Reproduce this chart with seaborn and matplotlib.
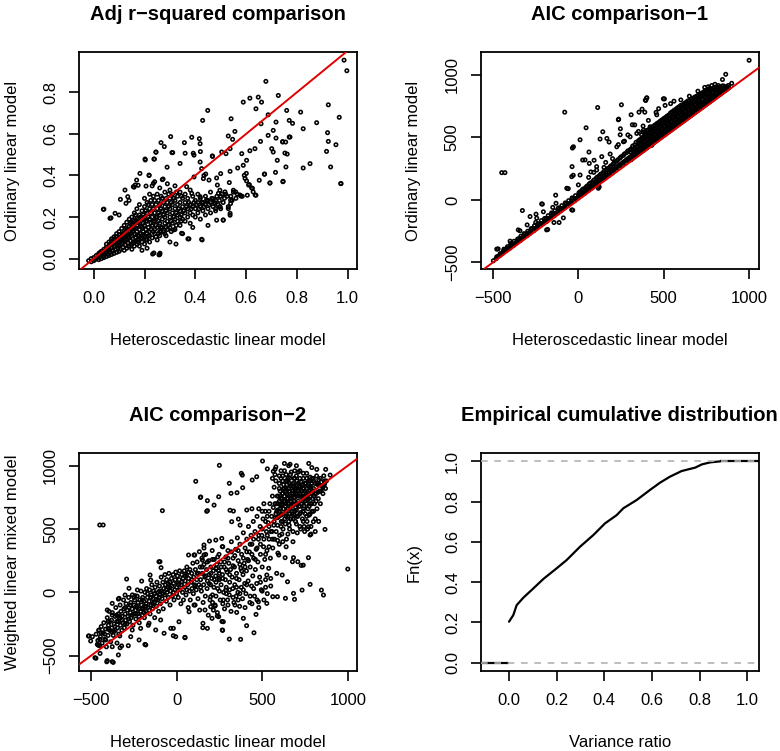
import numpy as np
import matplotlib
matplotlib.use("Agg")
import matplotlib.pyplot as plt
import seaborn as sns

# === Data ===
# Panel 1: adjusted r-squared, heteroscedastic (x) vs ordinary (y)
adj_pts = [
    (-0.02, -0.01), (-0.01, -0.015), (-0.01, 0.0), (0.0, -0.01), (0.0, 0.005), (0.005, -0.005),
    (0.01, 0.0), (0.01, 0.015), (0.015, 0.005), (0.02, -0.005), (0.02, 0.01), (0.02, 0.025),
    (0.025, 0.015), (0.03, 0.0), (0.03, 0.02), (0.03, 0.035), (0.035, 0.01), (0.04, 0.005),
    (0.04, 0.025), (0.04, 0.045), (0.045, 0.03), (0.05, 0.01), (0.05, 0.035), (0.05, 0.055),
    (0.05, 0.07), (0.055, 0.02), (0.06, 0.015), (0.06, 0.04), (0.06, 0.06), (0.06, 0.08),
    (0.065, 0.03), (0.07, 0.02), (0.07, 0.05), (0.07, 0.07), (0.07, 0.095), (0.075, 0.04),
    (0.08, 0.025), (0.08, 0.06), (0.08, 0.08), (0.08, 0.105), (0.085, 0.045), (0.09, 0.03),
    (0.09, 0.07), (0.09, 0.09), (0.09, 0.12), (0.095, 0.05), (0.1, 0.035), (0.1, 0.06),
    (0.1, 0.08), (0.1, 0.1), (0.1, 0.13), (0.105, 0.045), (0.11, 0.07), (0.11, 0.11),
    (0.11, 0.145), (0.115, 0.055), (0.12, 0.04), (0.12, 0.085), (0.12, 0.1), (0.12, 0.125),
    (0.12, 0.16), (0.125, 0.065), (0.13, 0.05), (0.13, 0.09), (0.13, 0.115), (0.13, 0.14),
    (0.13, 0.175), (0.135, 0.075), (0.14, 0.06), (0.14, 0.1), (0.14, 0.13), (0.14, 0.155),
    (0.14, 0.19), (0.145, 0.085), (0.15, 0.045), (0.15, 0.07), (0.15, 0.11), (0.15, 0.14),
    (0.15, 0.165), (0.15, 0.2), (0.155, 0.095), (0.16, 0.06), (0.16, 0.08), (0.16, 0.12),
    (0.16, 0.15), (0.16, 0.18), (0.16, 0.22), (0.165, 0.1), (0.17, 0.07), (0.17, 0.13),
    (0.17, 0.16), (0.17, 0.195), (0.17, 0.24), (0.175, 0.09), (0.18, 0.06), (0.18, 0.11),
    (0.18, 0.14), (0.18, 0.17), (0.18, 0.21), (0.18, 0.26), (0.185, 0.12), (0.19, 0.08),
    (0.19, 0.1), (0.19, 0.15), (0.19, 0.19), (0.19, 0.23), (0.195, 0.13), (0.2, 0.07),
    (0.2, 0.11), (0.2, 0.16), (0.2, 0.2), (0.2, 0.25), (0.2, 0.29), (0.205, 0.14),
    (0.21, 0.09), (0.21, 0.12), (0.21, 0.18), (0.21, 0.22), (0.21, 0.27), (0.215, 0.15),
    (0.22, 0.08), (0.22, 0.11), (0.22, 0.13), (0.22, 0.19), (0.22, 0.24), (0.22, 0.31),
    (0.23, 0.1), (0.23, 0.16), (0.23, 0.2), (0.23, 0.26), (0.23, 0.35), (0.24, 0.12),
    (0.24, 0.14), (0.24, 0.18), (0.24, 0.22), (0.24, 0.28), (0.24, 0.37), (0.25, 0.09),
    (0.25, 0.15), (0.25, 0.2), (0.25, 0.24), (0.25, 0.31), (0.26, 0.11), (0.26, 0.13),
    (0.26, 0.17), (0.26, 0.21), (0.26, 0.26), (0.26, 0.34), (0.27, 0.15), (0.27, 0.19),
    (0.27, 0.23), (0.27, 0.29), (0.27, 0.38), (0.28, 0.12), (0.28, 0.17), (0.28, 0.2),
    (0.28, 0.25), (0.28, 0.32), (0.29, 0.14), (0.29, 0.18), (0.29, 0.22), (0.29, 0.27),
    (0.29, 0.36), (0.3, 0.15), (0.3, 0.2), (0.3, 0.24), (0.3, 0.29), (0.3, 0.33),
    (0.31, 0.17), (0.31, 0.22), (0.31, 0.26), (0.31, 0.31), (0.32, 0.14), (0.32, 0.19),
    (0.32, 0.24), (0.32, 0.28), (0.32, 0.35), (0.33, 0.18), (0.33, 0.21), (0.33, 0.26),
    (0.33, 0.3), (0.34, 0.16), (0.34, 0.2), (0.34, 0.23), (0.34, 0.27), (0.34, 0.32),
    (0.35, 0.19), (0.35, 0.25), (0.35, 0.29), (0.36, 0.18), (0.36, 0.22), (0.36, 0.27),
    (0.36, 0.31), (0.37, 0.2), (0.37, 0.24), (0.37, 0.29), (0.38, 0.17), (0.38, 0.22),
    (0.38, 0.26), (0.38, 0.33), (0.39, 0.21), (0.39, 0.25), (0.39, 0.3), (0.4, 0.2),
    (0.4, 0.24), (0.4, 0.28), (0.41, 0.22), (0.41, 0.27), (0.41, 0.31), (0.42, 0.19),
    (0.42, 0.25), (0.42, 0.29), (0.43, 0.23), (0.43, 0.27), (0.44, 0.21), (0.44, 0.26),
    (0.44, 0.3), (0.45, 0.24), (0.45, 0.28), (0.46, 0.22), (0.46, 0.27), (0.46, 0.32),
    (0.47, 0.25), (0.48, 0.23), (0.48, 0.28), (0.49, 0.26), (0.5, 0.24), (0.5, 0.3),
    (0.51, 0.27), (0.52, 0.31), (0.53, 0.25), (0.54, 0.3), (0.55, 0.32), (0.56, 0.29),
    (0.105, 0.09), (0.115, 0.12), (0.125, 0.145), (0.135, 0.105), (0.145, 0.12), (0.155, 0.13),
    (0.165, 0.145), (0.175, 0.11), (0.175, 0.175), (0.185, 0.155), (0.185, 0.2), (0.195, 0.17),
    (0.195, 0.21), (0.205, 0.09), (0.205, 0.18), (0.205, 0.23), (0.215, 0.2), (0.215, 0.26),
    (0.225, 0.17), (0.225, 0.22), (0.225, 0.28), (0.235, 0.13), (0.235, 0.18), (0.235, 0.24),
    (0.235, 0.3), (0.245, 0.16), (0.245, 0.2), (0.245, 0.26), (0.255, 0.12), (0.255, 0.18),
    (0.255, 0.22), (0.255, 0.28), (0.265, 0.15), (0.265, 0.24), (0.265, 0.3), (0.275, 0.13),
    (0.275, 0.21), (0.275, 0.27), (0.285, 0.15), (0.285, 0.23), (0.285, 0.29), (0.295, 0.16),
    (0.295, 0.25), (0.295, 0.31), (0.305, 0.18), (0.305, 0.27), (0.315, 0.2), (0.315, 0.29),
    (0.325, 0.22), (0.325, 0.32), (0.335, 0.24), (0.345, 0.21), (0.345, 0.3), (0.355, 0.23),
    (0.365, 0.25), (0.375, 0.27), (0.385, 0.24), (0.395, 0.27), (0.405, 0.26), (0.415, 0.24),
    (0.425, 0.27), (0.435, 0.25), (0.445, 0.28), (0.455, 0.26), (0.465, 0.29), (0.475, 0.27),
    (0.485, 0.3), (0.495, 0.28), (0.505, 0.31), (0.515, 0.29), (0.525, 0.3), (0.545, 0.28),
    (0.565, 0.31), (0.585, 0.3), (0.1, 0.115), (0.09, 0.105), (0.08, 0.095), (0.07, 0.085),
    (0.065, 0.07), (0.06, 0.05), (0.055, 0.045), (0.045, 0.04), (0.035, 0.025), (0.025, 0.03),
    (0.085, 0.06), (0.095, 0.075), (0.105, 0.065), (0.115, 0.09), (0.125, 0.11), (0.135, 0.12),
    (0.145, 0.145), (0.155, 0.165), (0.165, 0.17), (0.175, 0.19), (0.145, 0.17), (0.155, 0.185),
    (0.165, 0.21), (0.125, 0.09), (0.135, 0.06), (0.155, 0.075), (0.165, 0.085), (0.175, 0.08),
    (0.185, 0.095), (0.195, 0.115), (0.215, 0.11), (0.225, 0.14), (0.245, 0.105), (0.265, 0.13),
    (0.285, 0.11), (0.305, 0.13), (0.325, 0.16), (0.345, 0.18),
    (0.371, 0.095), (0.427, 0.09), (0.324, 0.07), (0.257, 0.018), (0.237, 0.027), (0.26, 0.02),
    (0.21, 0.05), (0.19, 0.04), (0.3, 0.08), (0.35, 0.12), (0.39, 0.15), (0.45, 0.16),
    (0.04, 0.238), (0.068, 0.196), (0.1, 0.21), (0.139, 0.28), (0.159, 0.344), (0.206, 0.349),
    (0.218, 0.4), (0.245, 0.512), (0.202, 0.479), (0.237, 0.479), (0.289, 0.44), (0.308, 0.51),
    (0.36, 0.507), (0.395, 0.498), (0.395, 0.393), (0.434, 0.4), (0.419, 0.465), (0.419, 0.553),
    (0.425, 0.433), (0.432, 0.385), (0.484, 0.388), (0.497, 0.329), (0.484, 0.185), (0.51, 0.185),
    (0.471, 0.288), (0.48, 0.241), (0.497, 0.249), (0.537, 0.209), (0.53, 0.241), (0.539, 0.265),
    (0.539, 0.281), (0.517, 0.321), (0.55, 0.329), (0.58, 0.301), (0.605, 0.305), (0.639, 0.305),
    (0.628, 0.321), (0.622, 0.34), (0.613, 0.356), (0.602, 0.374), (0.652, 0.377), (0.672, 0.406),
    (0.694, 0.364), (0.746, 0.372), (0.593, 0.401), (0.5, 0.409), (0.537, 0.42), (0.567, 0.436),
    (0.589, 0.449), (0.602, 0.473), (0.468, 0.492), (0.504, 0.513), (0.521, 0.505), (0.537, 0.529),
    (0.583, 0.505), (0.615, 0.519), (0.635, 0.529), (0.657, 0.564), (0.701, 0.529), (0.707, 0.513),
    (0.723, 0.473), (0.753, 0.508), (0.762, 0.503), (0.757, 0.441), (0.825, 0.436), (0.852, 0.457),
    (0.933, 0.441), (0.974, 0.361), (0.917, 0.516), (0.954, 0.548), (0.924, 0.564), (0.921, 0.606),
    (0.744, 0.561), (0.756, 0.561), (0.77, 0.585), (0.718, 0.58), (0.687, 0.593), (0.547, 0.574),
    (0.53, 0.59), (0.556, 0.612), (0.707, 0.617), (0.659, 0.649), (0.825, 0.625), (0.967, 0.68),
    (0.924, 0.74), (0.878, 0.654), (0.77, 0.665), (0.718, 0.657), (0.687, 0.692), (0.815, 0.705),
    (0.76, 0.713), (0.541, 0.673), (0.429, 0.665), (0.449, 0.713), (0.639, 0.721), (0.727, 0.785),
    (0.661, 0.753), (0.648, 0.777), (0.589, 0.753), (0.615, 0.772), (0.678, 0.853), (0.986, 0.955),
    (0.997, 0.904), (0.783, 0.651), (0.773, 0.585), (0.744, 0.563), (0.716, 0.415), (0.673, 0.407),
    (0.694, 0.364), (0.745, 0.37), (0.973, 0.361), (0.601, 0.41), (0.596, 0.386), (0.61, 0.354),
    (0.625, 0.338), (0.636, 0.306), (0.576, 0.306), (0.559, 0.321), (0.534, 0.366), (0.491, 0.314),
    (0.416, 0.577), (0.386, 0.584), (0.357, 0.558), (0.311, 0.51), (0.265, 0.558), (0.245, 0.513),
    (0.239, 0.479), (0.278, 0.539), (0.303, 0.587), (0.203, 0.475), (0.218, 0.402), (0.273, 0.383),
    (0.235, 0.362), (0.163, 0.354), (0.134, 0.298), (0.127, 0.266), (0.34, 0.458), (0.392, 0.507),
    (0.42, 0.515), (0.467, 0.494), (0.441, 0.407), (0.454, 0.378), (0.487, 0.354), (0.366, 0.346),
    (0.386, 0.314), (0.419, 0.298), (0.445, 0.282), (0.478, 0.266), (0.497, 0.25), (0.51, 0.186),
    (0.537, 0.218), (0.425, 0.093), (0.375, 0.095), (0.346, 0.122), (0.314, 0.138), (0.261, 0.026),
    (0.232, 0.022), (0.038, 0.237), (0.064, 0.194), (0.084, 0.218), (0.105, 0.285), (0.123, 0.33),
    (0.156, 0.346), (0.175, 0.353), (0.182, 0.41), (0.169, 0.378),
]

# Panel 2: AIC, heteroscedastic (x) vs ordinary (y)
aic1_pts = [
    (-482, -471), (-478, -455), (-461, -446), (-458, -430), (-442, -426), (-439, -409), (-436, -394),
    (-421, -404), (-418, -389), (-415, -374), (-401, -386), (-398, -369), (-396, -349),
    (-381, -366), (-379, -350), (-377, -331), (-362, -344), (-358, -331), (-356, -314),
    (-341, -326), (-339, -309), (-337, -291), (-322, -304), (-319, -289), (-318, -270),
    (-301, -286), (-299, -269), (-297, -251), (-282, -266), (-279, -249), (-277, -229),
    (-261, -246), (-259, -229), (-257, -206), (-241, -224), (-239, -209), (-238, -191),
    (-222, -206), (-219, -189), (-217, -166), (-201, -184), (-199, -171), (-198, -149),
    (-181, -166), (-179, -149), (-177, -126), (-162, -144), (-159, -131), (-157, -104),
    (-141, -126), (-139, -109), (-137, -86), (-121, -104), (-119, -91), (-117, -64),
    (-102, -86), (-99, -69), (-97, -46), (-81, -64), (-79, -51), (-77, -24),
    (-62, -46), (-59, -29), (-57, -6), (-41, -24), (-39, -11), (-37, 16),
    (-21, -6), (-19, 11), (-17, 34), (-2, 14), (1, 31), (3, 56),
    (19, 36), (21, 49), (23, 81), (38, 54), (41, 71), (43, 99),
    (58, 76), (61, 89), (63, 126), (79, 96), (81, 111), (83, 144),
    (98, 116), (101, 134), (103, 171), (118, 134), (121, 156), (123, 194),
    (138, 156), (141, 174), (143, 216), (158, 176), (161, 196), (163, 239),
    (178, 194), (181, 216), (183, 261), (198, 216), (201, 239), (203, 286),
    (218, 236), (221, 261), (223, 309), (238, 256), (241, 281), (243, 334),
    (258, 276), (261, 299), (263, 356), (278, 296), (281, 321), (283, 379),
    (298, 316), (301, 341), (303, 401),
    (-470, -452), (-450, -432), (-430, -397), (-410, -392), (-390, -355), (-370, -352),
    (-350, -312), (-330, -310), (-310, -275), (-290, -270), (-270, -232), (-250, -230),
    (-230, -192), (-210, -188), (-190, -150), (-170, -148), (-150, -108), (-130, -106),
    (-110, -70), (-90, -68), (-70, -30), (-50, -28), (-30, 8), (-10, 12), (10, 40),
    (10, 65), (30, 60), (30, 88), (50, 80), (50, 110), (70, 100), (70, 135), (90, 120),
    (90, 158), (110, 140), (110, 182), (130, 160), (130, 205), (150, 180), (150, 228),
    (170, 200), (170, 250), (190, 225), (190, 272), (210, 245), (210, 298), (230, 268),
    (230, 320), (250, 288), (250, 345), (270, 308), (270, 368), (290, 330), (290, 392),
    (321, 336), (319, 366), (322, 396), (318, 431), (341, 356), (339, 386), (342, 421), (338, 461),
    (361, 376), (359, 406), (362, 441), (358, 481), (381, 396), (379, 426), (382, 461), (378, 501),
    (380, 541), (401, 416), (399, 446), (402, 481), (398, 516), (400, 556), (421, 436), (419, 466),
    (422, 501), (418, 536), (420, 571), (441, 456), (439, 486), (442, 521), (438, 556), (440, 591),
    (461, 476), (459, 506), (462, 541), (458, 576), (460, 611), (481, 496), (479, 526), (482, 561),
    (478, 596), (480, 631), (501, 516), (499, 546), (502, 581), (498, 616), (500, 651), (521, 536),
    (519, 566), (522, 601), (518, 636), (520, 671), (541, 556), (539, 586), (542, 621), (538, 656),
    (540, 696), (561, 576), (559, 606), (562, 641), (558, 676), (560, 716), (581, 596), (579, 626),
    (582, 661), (578, 696), (580, 736), (601, 616), (599, 646), (602, 681), (598, 716), (600, 756),
    (621, 636), (619, 666), (622, 701), (618, 736), (620, 771), (641, 656), (639, 686), (642, 721),
    (638, 756), (640, 791), (661, 676), (659, 706), (662, 741), (658, 776), (660, 806), (681, 696),
    (679, 726), (682, 761), (678, 796), (680, 821), (701, 716), (699, 746), (702, 781), (698, 811),
    (700, 836), (721, 736), (719, 766), (722, 801), (718, 831), (720, 851), (741, 756), (739, 786),
    (742, 816), (738, 846), (740, 871), (761, 776), (759, 806), (762, 836), (758, 866), (760, 886),
    (781, 796), (779, 826), (782, 856), (778, 886), (801, 816), (799, 846), (802, 876), (798, 901),
    (821, 836), (819, 866), (822, 896), (841, 856), (839, 886), (842, 911), (861, 876), (859, 901),
    (881, 896), (879, 916),
    (310, 322), (310, 350), (310, 380), (310, 410), (330, 345), (330, 372), (330, 405), (330, 440),
    (350, 365), (350, 395), (350, 430), (350, 470), (370, 385), (370, 415), (370, 450), (370, 490),
    (370, 520), (390, 405), (390, 435), (390, 470), (390, 505), (390, 545), (410, 425), (410, 455),
    (410, 490), (410, 525), (410, 560), (430, 445), (430, 475), (430, 510), (430, 545), (430, 580),
    (450, 465), (450, 495), (450, 530), (450, 565), (450, 600), (470, 485), (470, 515), (470, 550),
    (470, 585), (470, 620), (490, 505), (490, 535), (490, 570), (490, 605), (490, 640), (510, 525),
    (510, 555), (510, 590), (510, 625), (510, 660), (530, 545), (530, 575), (530, 610), (530, 645),
    (530, 680), (550, 565), (550, 595), (550, 630), (550, 665), (550, 705), (570, 585), (570, 615),
    (570, 650), (570, 685), (570, 725), (590, 605), (590, 635), (590, 670), (590, 705), (590, 745),
    (610, 625), (610, 655), (610, 690), (610, 725), (610, 760), (630, 645), (630, 675), (630, 710),
    (630, 745), (630, 780), (650, 665), (650, 695), (650, 730), (650, 765), (650, 795), (670, 685),
    (670, 715), (670, 750), (670, 785), (670, 812), (690, 705), (690, 735), (690, 770), (690, 800),
    (690, 828), (710, 725), (710, 755), (710, 790), (710, 820), (710, 845), (730, 745), (730, 775),
    (730, 805), (730, 835), (730, 860), (750, 765), (750, 795), (750, 825), (750, 855), (750, 878),
    (770, 785), (770, 815), (770, 845), (770, 875), (770, 892), (790, 805), (790, 835), (790, 865),
    (790, 893), (810, 825), (810, 855), (810, 885), (810, 905), (830, 845), (830, 875), (830, 902),
    (850, 865), (850, 892), (850, 912), (870, 885), (870, 908),
    (-449, 218), (-430, 218), (-80, 702), (113, 739), (252, 761), (400, 814), (392, 798),
    (498, 809), (373, 726), (389, 702), (355, 702), (309, 681), (236, 646), (45, 577),
    (143, 545), (127, 487), (10, 481), (-29, 425), (-35, 415), (-37, 266), (62, 383),
    (25, 319), (64, 292), (10, 199), (-39, 186), (-68, 93), (117, 93), (107, 239),
    (186, 367), (225, 425), (264, 465), (303, 505), (342, 532), (381, 558), (420, 585),
    (167, 492), (137, 346), (107, 266), (-328, -85), (-352, -240), (-186, -173), (-88, -144),
    (-244, -146), (-215, -32), (-283, -133), (-131, -27), (-39, -80), (-186, -240),
    (-478, -394), (-470, -392), (-498, -487), (1000, 1117), (863, 1005), (844, 963), (898, 933),
    (180, 463), (39, 320), (-30, 197), (-133, 38), (-211, -34), (-248, -114), (-205, -95),
    (-113, -181), (-143, -181), (-180, -237), (-342, -247), (-59, 90), (-33, -82), (92, 317),
    (73, 224), (122, 104), (781, 915), (504, 808), (401, 817), (395, 796), (508, 756),
    (459, 681), (234, 641), (316, 601), (379, 591), (410, 636), (246, 569), (245, 521),
    (352, 548), (234, 442), (430, 437), (270, 470), (290, 520), (330, 600), (455, 700),
    (470, 730), (540, 770), (560, 790), (600, 800), (650, 830), (700, 870), (740, 900),
    (760, 905), (800, 925), (820, 915), (160, 300), (200, 330), (60, 180), (90, 220),
    (-150, -60), (-300, -200), (-400, -330), (-250, -180), (0, 120), (150, 260),
]

# Panel 3: AIC, heteroscedastic (x) vs weighted mixed model (y)
aic2_pts = [
    (1000, 184), (-449, 532), (-429, 532), (-83, 645), (112, 877), (141, 753), (180, 724),
    (180, 645), (176, 640), (160, 350), (250, 1003), (502, 1037), (630, 1018), (663, 1011),
    (772, 1018), (308, 861), (353, 787), (386, 826), (318, 782), (139, 750), (219, 689),
    (246, 755), (468, 913), (442, 887), (384, 926), (378, 940), (575, 971), (565, 955),
    (530, 975), (332, 642), (312, 648), (410, 650), (440, 660), (361, 579), (371, 531),
    (322, 558), (264, 426), (229, 413), (192, 405), (133, 321), (151, 255), (160, 374),
    (106, 295), (70, 295), (-97, 242), (-91, 195), (-155, 137), (-204, 89), (-292, 105),
    (-243, -26), (-340, -53), (-515, -345), (-492, -350), (-477, -516), (-408, -548),
    (-370, -553), (-447, -482), (-463, -411), (-330, -437), (-282, -421), (-185, -411),
    (-19, -284), (-19, -342), (49, -358), (153, -279), (269, -300), (308, -369), (374, -371),
    (409, -263), (452, -319), (273, -232), (207, -205), (246, -192), (215, -140), (225, -108),
    (351, -158), (341, -100), (390, -205), (464, -174), (478, -74), (527, -87), (562, -34),
    (589, -34), (636, -47), (689, -55), (683, -8), (733, 18), (780, 63), (846, 18), (858, -21),
    (648, 84), (617, 137), (550, 110), (527, 137), (585, 150), (677, 242), (708, 242),
    (728, 213), (740, 215), (770, 274), (683, 274), (634, 274), (597, 295), (799, 558),
    (830, 560), (770, 518), (780, 453), (810, 480), (867, 497), (862, 847), (871, 971),
    (897, 926), (819, 971), (790, 985),
    (-512, -344), (-502, -384), (-457, -418), (-471, -520), (-405, -539), (-376, -547),
    (-340, -494), (-414, -376), (-376, -429), (-366, -310), (-321, -423), (-453, -297),
    (-391, -232), (-376, -179), (-332, -344), (-268, -350), (-259, -297), (-219, -376),
    (-180, -415), (-210, -284), (-161, -244), (-122, -297), (-93, -218), (-73, -323),
    (-34, -284), (-5, -350), (49, -355), (14, -232), (73, -153), (102, -100), (166, -139),
    (199, -113), (154, -244), (180, -284), (238, -187), (267, -297), (273, -60), (199, -34),
    (287, 19), (248, 111), (232, 190), (160, 295), (267, 361), (102, 295), (-103, 242),
    (-151, 97), (-229, 19), (-278, 32), (-301, -21), (-336, -47), (-376, -87), (-405, -139),
    (-470, -330), (-460, -380), (-455, -300), (-450, -420), (-445, -350), (-440, -270),
    (-435, -400), (-430, -320), (-425, -240), (-420, -370), (-415, -290), (-410, -430),
    (-405, -200), (-400, -340), (-398, -260), (-395, -150), (-390, -300), (-385, -390),
    (-380, -220), (-378, -280), (-375, -160), (-370, -340), (-365, -250), (-360, -190),
    (-358, -300), (-355, -120), (-350, -230), (-348, -400), (-345, -280), (-340, -170),
    (-338, -330), (-335, -210), (-330, -100), (-328, -260), (-325, -150), (-320, -300),
    (-318, -190), (-315, -240), (-310, -60), (-308, -130), (-305, -280), (-300, -170),
    (-298, -220), (-295, -90), (-290, -250), (-288, -140), (-285, -190), (-280, -40),
    (-278, -120), (-275, -230), (-270, -160), (-268, -80), (-265, -200), (-260, -130),
    (-258, -20), (-255, -260), (-250, -170), (-248, -100), (-245, -60), (-240, -140),
    (-238, -210), (-235, -110), (-230, -30), (-228, -170), (-225, -80), (-220, -130),
    (-218, -240), (-215, -60), (-210, -150), (-208, 10), (-205, -100), (-200, -180),
    (-198, -40), (-195, -120), (-190, -70), (-188, -200), (-185, 0), (-180, -150),
    (-178, -90), (-175, 30), (-170, -40), (-168, -120), (-165, -260), (-160, -70),
    (-158, 20), (-155, -170), (-150, -100), (-148, -20), (-145, 60), (-140, -130),
    (-138, -50), (-135, 10), (-130, -80), (-128, -200), (-125, 40), (-120, -30),
    (-118, -110), (-115, 80), (-110, -60), (-108, 0), (-105, -150), (-100, 50),
    (-98, -20), (-95, -90), (-90, 120), (-88, 10), (-85, -50), (-80, 80), (-78, -130),
    (-75, 30), (-70, -20), (-68, 140), (-65, 60), (-60, -70), (-58, 100), (-55, 0),
    (-50, 40), (-48, -40), (-45, 150), (-40, 80), (-38, -100), (-35, 10), (-30, 110),
    (-28, 50), (-25, -30), (-20, 140), (-18, 70), (-15, -60), (-10, 20), (-8, 100),
    (-5, 160), (0, 40), (0, -10), (5, 130), (8, 70), (10, -40),
    (-440, -320), (-420, -330), (-400, -290), (-380, -310), (-360, -270), (-340, -230),
    (-320, -220), (-300, -250), (-280, -210), (-260, -180), (-240, -170), (-220, -190),
    (-200, -130), (-180, -110), (-160, -140), (-140, -90), (-120, -60), (-100, -40),
    (-80, -10), (-60, 20), (-40, 40), (-20, 0), (-300, -120), (-250, -40), (-200, -60),
    (-150, -40), (-100, 10), (-50, 70), (-350, -180), (-400, -230), (-450, -370),
    (-330, -200), (-270, -100), (-230, -120), (-190, -160), (-170, -10), (-130, -10),
    (15, 100), (18, 170), (20, 20), (25, -90), (28, 60), (30, 140), (35, 0), (38, 110),
    (40, -60), (45, 170), (48, 40), (50, 90), (55, -20), (58, 140), (60, 200), (65, 60),
    (68, -120), (70, 110), (75, 10), (78, 180), (80, -60), (85, 80), (88, 150), (90, 30),
    (95, 230), (98, -10), (100, 120), (105, 60), (108, -100), (110, 180), (115, 20),
    (118, 100), (120, 240), (125, -50), (128, 150), (130, 60), (135, -140), (138, 200),
    (140, 100), (145, 10), (148, 270), (150, 150), (155, -80), (158, 60), (160, 220),
    (165, 120), (168, -30), (170, 300), (175, 180), (178, 30), (180, 90), (185, -180),
    (188, 250), (190, 140), (195, -60), (198, 60), (200, 200), (205, 110), (208, 330),
    (210, -20), (215, 170), (218, 40), (220, 260), (225, -100), (228, 130), (230, 80),
    (235, 220), (238, -160), (240, 30), (245, 170), (248, 300), (250, 100), (255, -60),
    (258, 240), (260, 60), (265, -230), (268, 140), (270, 360), (275, 0), (278, 200),
    (280, -130), (285, 100), (288, 280), (290, 40), (295, 160), (298, -60), (300, 330),
    (305, 230), (308, -20), (310, 80), (315, 180), (318, -150), (320, 400), (325, 120),
    (328, 30), (330, 270), (335, -80), (338, 200), (340, 60), (345, 340), (348, -30),
    (350, 150), (355, 430), (358, 0), (360, 250), (365, 100), (368, -110), (370, 380),
    (375, 190), (378, 40), (380, 300), (385, -50), (388, 140), (390, 470), (395, 230),
    (398, 70), (400, 350),
    (10, 60), (30, 80), (50, 130), (60, 20), (70, 160), (90, 100), (110, 50), (120, 150),
    (140, 40), (150, 200), (170, 130), (180, 240), (190, 70), (200, 150), (210, 260),
    (220, 100), (230, 190), (240, 280), (250, 150), (260, 200), (270, 110), (280, 240),
    (290, 180), (300, 270), (310, 140), (320, 320), (330, 210), (340, 290), (350, 110),
    (360, 330), (370, 220), (380, 170), (390, 270), (400, 200), (410, 320), (420, 250),
    (430, 380), (440, 300), (450, 420), (460, 260), (470, 350), (480, 450), (490, 380),
    (500, 500), (510, 420), (520, 300), (530, 450), (540, 360), (550, 480),
    (210, -80), (230, -30), (250, 10), (270, -90), (290, -10), (310, 20), (330, -40),
    (350, 40), (370, -10), (390, 20), (410, 60), (430, -30), (450, 30), (470, -60),
    (490, 80), (500, 10), (520, 40), (360, -60), (400, -120), (440, -90), (300, -100),
    (405, -10), (408, 170), (410, 420), (415, 260), (418, 90), (420, 520), (425, 320),
    (428, -80), (430, 200), (435, 450), (438, 50), (440, 380), (445, 130), (448, 560),
    (450, 270), (455, -30), (458, 480), (460, 180), (465, 340), (468, 70), (470, 600),
    (475, 240), (478, 420), (480, -120), (485, 120), (488, 520), (490, 300), (495, 20),
    (498, 450), (500, 200), (505, 580), (508, 360), (510, -60), (515, 260), (518, 640),
    (520, 100), (525, 480), (528, 330), (530, -10), (535, 550), (538, 190), (540, 420),
    (545, 700), (548, 270), (550, 50),
    (555, 600), (558, 480), (560, 760), (562, 350), (565, 670), (568, 530), (570, 830),
    (572, 420), (575, 700), (578, 590), (580, 880), (582, 480), (585, 640), (588, 760),
    (590, 530), (592, 310), (595, 700), (598, 600), (600, 820), (602, 450), (605, 660),
    (608, 740), (610, 900), (612, 560), (615, 690), (618, 780), (620, 620), (622, 500),
    (625, 850), (628, 720), (630, 960), (632, 580), (635, 680), (638, 790), (640, 640),
    (642, 420), (645, 740), (648, 880), (650, 600), (652, 700), (655, 820), (658, 530),
    (660, 760), (662, 660), (665, 930), (668, 580), (670, 720), (672, 850), (675, 640),
    (678, 780), (680, 480), (682, 690), (685, 900), (688, 610), (690, 750), (692, 820),
    (695, 560), (698, 700), (700, 650), (702, 880), (705, 780), (708, 600), (710, 720),
    (712, 950), (715, 680), (718, 830), (720, 520), (722, 760), (725, 630), (728, 870),
    (730, 700), (732, 800), (735, 580), (738, 740), (740, 900), (742, 660), (745, 820),
    (748, 480), (750, 760), (752, 620), (755, 860), (758, 700), (760, 940), (762, 560),
    (765, 790), (768, 660), (770, 880), (772, 740), (775, 610), (778, 830), (780, 910),
    (782, 700), (785, 460), (788, 780), (790, 860), (792, 640), (795, 740), (798, 900),
    (800, 820), (805, 700), (808, 860), (810, 580), (815, 780), (818, 920), (820, 660),
    (825, 850), (828, 740), (830, 890), (835, 800), (840, 700), (845, 870), (850, 840),
    (855, 780), (860, 920), (865, 860), (870, 820), (875, 880),
    (590, 650), (600, 720), (610, 610), (620, 700), (630, 760), (640, 820), (650, 660),
    (660, 860), (670, 680), (680, 800), (690, 900), (700, 820), (710, 860), (720, 900),
    (730, 850), (740, 780), (750, 720), (760, 820), (770, 780), (780, 840), (790, 700),
    (800, 760), (650, 900), (670, 950), (690, 960), (700, 1000), (720, 960), (640, 930),
    (655, 1000), (600, 920), (610, 960), (560, 900), (575, 930), (580, 990), (620, 880),
    (570, 560), (610, 520), (660, 500), (700, 540), (740, 560), (590, 410), (620, 400),
    (650, 460), (680, 400), (560, 420), (600, 380), (640, 360), (540, 520), (530, 600),
    (520, 560), (500, 640), (510, 700), (480, 660), (540, 640),
    (585, 700), (595, 760), (605, 800), (615, 740), (625, 660), (635, 720), (645, 780),
    (655, 700), (665, 740), (675, 800), (685, 720), (695, 780), (705, 700), (715, 760),
    (725, 800), (735, 720), (745, 680), (755, 780), (765, 730), (775, 680), (785, 820),
    (795, 800), (805, 760), (815, 720), (825, 790), (835, 850), (845, 800), (855, 830),
    (865, 880), (620, 780), (630, 820), (640, 700), (650, 740), (660, 800), (670, 760),
    (680, 700), (690, 640), (700, 760), (710, 800), (720, 680), (730, 760), (740, 820),
    (750, 860), (760, 760), (770, 840), (780, 760), (790, 900), (610, 680), (600, 640),
    (590, 590), (580, 620), (620, 560), (640, 600), (660, 620), (680, 580), (700, 600),
    (720, 620), (740, 640), (760, 600), (780, 620), (800, 640), (600, 860), (620, 920),
    (640, 880), (660, 900), (680, 860), (700, 920), (720, 840), (740, 940), (760, 900),
    (780, 880), (800, 880), (820, 860), (840, 900), (665, 840), (685, 830), (705, 850),
    (645, 850), (625, 820), (695, 670), (675, 620), (655, 560), (635, 540), (615, 460),
    (705, 470), (725, 500), (745, 520), (765, 500), (785, 520),
]

# Panel 4: empirical CDF of the variance ratio
ecdf_x = [0.0, 0.018, 0.032, 0.06, 0.102, 0.144, 0.2, 0.242, 0.298, 0.354, 0.403,
          0.452, 0.48, 0.536, 0.592, 0.634, 0.676, 0.725, 0.782, 0.81, 0.845, 0.887]
ecdf_f = [0.204, 0.237, 0.286, 0.323, 0.369, 0.416, 0.469, 0.51, 0.576, 0.634, 0.692,
          0.733, 0.767, 0.808, 0.858, 0.894, 0.924, 0.952, 0.969, 0.985, 0.995, 1.0]

ratio_ticks = [0.0, 0.2, 0.4, 0.6, 0.8, 1.0]
ratio_labels = ["0.0", "0.2", "0.4", "0.6", "0.8", "1.0"]
adj_yticks = [0.0, 0.2, 0.4, 0.6, 0.8]
adj_ylabels = ["0.0", "0.2", "0.4", "0.6", "0.8"]
aic_ticks = [-500, 0, 500, 1000]
aic_labels = ["\u2212500", "0", "500", "1000"]

# === Style ===
sns.set_theme(style="white")
plt.rcParams['font.family'] = ['Liberation Sans', 'DejaVu Sans']
plt.rcParams['axes.edgecolor'] = 'black'
plt.rcParams['axes.linewidth'] = 1.3

FS = 12


def scatter_panel(ax, pts):
    arr = np.array(pts, dtype=float)
    sns.scatterplot(x=arr[:, 0], y=arr[:, 1], ax=ax, marker='o', s=6,
                    color='black', linewidth=1.15, legend=False, zorder=2)
    coll = ax.collections[-1]
    coll.set_facecolor('none')
    coll.set_edgecolor('black')
    ax.axline((0, 0), slope=1, color='#E00000', lw=1.4, zorder=3)


def style_axes(ax, title, xlabel, ylabel, xt, xl, yt, yl, xlim, ylim):
    ax.set_xlim(*xlim)
    ax.set_ylim(*ylim)
    ax.set_xticks(xt)
    ax.set_xticklabels(xl)
    ax.set_yticks(yt)
    ax.set_yticklabels(yl, rotation=90, va='center')
    ax.tick_params(axis='both', direction='out', length=7, width=1.2, color='black',
                   labelsize=FS, labelcolor='black', bottom=True, left=True)
    ax.tick_params(axis='x', pad=9)
    ax.tick_params(axis='y', pad=8)
    ax.set_xlabel(xlabel, fontsize=FS, labelpad=19, color='black')
    ax.set_ylabel(ylabel, fontsize=FS, labelpad=17, color='black')
    ax.set_title(title, fontsize=14.5, fontweight='bold', pad=23, color='black')
    for sp in ax.spines.values():
        sp.set_visible(True)
        sp.set_color('black')
        sp.set_linewidth(1.3)


fig = plt.figure(figsize=(7.8, 7.51), dpi=100)
ax1 = fig.add_axes([0.1013, 0.6418, 0.3564, 0.2889])
ax2 = fig.add_axes([0.6163, 0.6418, 0.3568, 0.2889])
ax3 = fig.add_axes([0.1013, 0.1065, 0.3564, 0.2899])
ax4 = fig.add_axes([0.6163, 0.1065, 0.3568, 0.2899])

# Adj r-squared
scatter_panel(ax1, adj_pts)
style_axes(ax1, "Adj r\u2212squared comparison", "Heteroscedastic linear model",
           "Ordinary linear model", ratio_ticks, ratio_labels, adj_yticks, adj_ylabels,
           (-0.058, 1.037), (-0.05, 0.994))

# AIC comparison 1
scatter_panel(ax2, aic1_pts)
style_axes(ax2, "AIC comparison\u22121", "Heteroscedastic linear model",
           "Ordinary linear model", aic_ticks, aic_labels, aic_ticks, aic_labels,
           (-572, 1058), (-553, 1183))

# AIC comparison 2
scatter_panel(ax3, aic2_pts)
style_axes(ax3, "AIC comparison\u22122", "Heteroscedastic linear model",
           "Weighted linear mixed model", aic_ticks, aic_labels, aic_ticks, aic_labels,
           (-570, 1054), (-621, 1098))

# ECDF
xlim4 = (-0.119, 1.05)
sns.lineplot(x=ecdf_x, y=ecdf_f, ax=ax4, color='black', lw=1.6, sort=False, zorder=2)
ax4.hlines(0, xlim4[0], ecdf_x[0], color='black', lw=1.6, zorder=2)
ax4.hlines(1, ecdf_x[-1], xlim4[1], color='black', lw=1.6, zorder=2)
ax4.axhline(0, color='#B3B3B3', lw=1.2, ls=(0, (4, 4)), zorder=3)
ax4.axhline(1, color='#B3B3B3', lw=1.2, ls=(0, (4, 4)), zorder=3)
style_axes(ax4, "Empirical cumulative distribution", "Variance ratio", "Fn(x)",
           ratio_ticks, ratio_labels, ratio_ticks, ratio_labels, xlim4, (-0.041, 1.04))

fig.savefig("out.png", dpi=100)
